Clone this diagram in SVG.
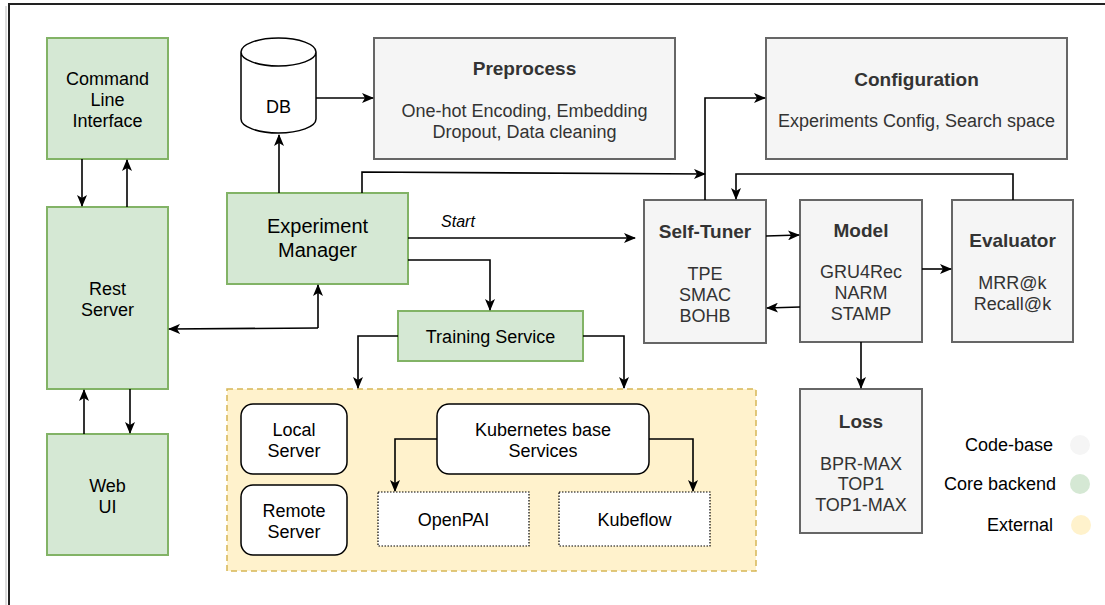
<svg xmlns="http://www.w3.org/2000/svg" width="1105" height="605" viewBox="0 0 1105 605">
<defs>
<marker id="ah" viewBox="0 0 12 10" refX="11" refY="5" markerWidth="12" markerHeight="10" markerUnits="userSpaceOnUse" orient="auto">
<path d="M0,0 L12,5 L0,10 L3,5 Z" fill="#000"/>
</marker>
</defs>
<style>
text{font-family:"Liberation Sans",Arial,sans-serif;text-anchor:middle;fill:#000}
.g{fill:#d5e8d4;stroke:#82b366;stroke-width:2}
.c{fill:#f5f5f5;stroke:#666666;stroke-width:2}
.c2{fill:#333333}
.w{fill:#fff;stroke:#000;stroke-width:1.5}
.d{fill:#fff;stroke:#000;stroke-width:1.2;stroke-dasharray:1.5 1.5}
.t18{font-size:18px}
.t20{font-size:20px}
.b{font-weight:bold;font-size:19px}
.ln{fill:none;stroke:#000;stroke-width:1.6}
</style>
<rect width="1105" height="605" fill="#fff"/>
<path d="M1105,4 H9 V605" fill="none" stroke="#222" stroke-width="2"/>
<path d="M6,6 V605" fill="none" stroke="#ddd" stroke-width="2"/>

<g id="cli">
<rect class="g" x="47" y="38" width="121" height="121"/>
<text class="t18" x="107.5" y="85">Command</text>
<text class="t18" x="107.5" y="106">Line</text>
<text class="t18" x="107.5" y="127">Interface</text>
</g>
<g id="rest">
<rect class="g" x="47" y="207" width="121" height="182"/>
<text class="t18" x="107.5" y="295">Rest</text>
<text class="t18" x="107.5" y="316">Server</text>
</g>
<g id="webui">
<rect class="g" x="47" y="434" width="121" height="121"/>
<text class="t18" x="107.5" y="492">Web</text>
<text class="t18" x="107.5" y="513">UI</text>
</g>
<g id="db">
<path class="w" d="M241,52 V119 A37.5,14 0 0 0 316,119 V52 A37.5,14 0 0 0 241,52 A37.5,14 0 0 0 316,52"/>
<text class="t18" x="278.5" y="113">DB</text>
</g>
<g id="preprocess">
<rect class="c" x="374" y="38" width="301" height="121"/>
<text class="b c2" x="524.5" y="75">Preprocess</text>
<text class="t18 c2" x="524.5" y="117">One-hot Encoding, Embedding</text>
<text class="t18 c2" x="524.5" y="138">Dropout, Data cleaning</text>
</g>
<g id="configuration">
<rect class="c" x="766" y="38" width="301" height="121"/>
<text class="b c2" x="916.5" y="86">Configuration</text>
<text class="t18 c2" x="916.5" y="127">Experiments Config, Search space</text>
</g>
<g id="experiment-manager">
<rect class="g" x="227" y="193" width="181" height="91"/>
<text class="t20" x="317.5" y="233">Experiment</text>
<text class="t20" x="317.5" y="257">Manager</text>
</g>
<g id="self-tuner">
<rect class="c" x="644" y="200" width="122" height="143"/>
<text class="b c2" x="705" y="238">Self-Tuner</text>
<text class="t18 c2" x="705" y="280">TPE</text>
<text class="t18 c2" x="705" y="301">SMAC</text>
<text class="t18 c2" x="705" y="322">BOHB</text>
</g>
<g id="model">
<rect class="c" x="800" y="200" width="122" height="142"/>
<text class="b c2" x="861" y="237">Model</text>
<text class="t18 c2" x="861" y="278">GRU4Rec</text>
<text class="t18 c2" x="861" y="299">NARM</text>
<text class="t18 c2" x="861" y="320">STAMP</text>
</g>
<g id="evaluator">
<rect class="c" x="952" y="200" width="121" height="142"/>
<text class="b c2" x="1012.5" y="247">Evaluator</text>
<text class="t18 c2" x="1012.5" y="289">MRR@k</text>
<text class="t18 c2" x="1012.5" y="310">Recall@k</text>
</g>
<g id="loss">
<rect class="c" x="800" y="389" width="122" height="144"/>
<text class="b c2" x="861" y="428">Loss</text>
<text class="t18 c2" x="861" y="470">BPR-MAX</text>
<text class="t18 c2" x="861" y="490">TOP1</text>
<text class="t18 c2" x="861" y="511">TOP1-MAX</text>
</g>
<g id="training-service">
<rect class="g" x="398" y="311" width="185" height="50"/>
<text class="t18" x="490.5" y="343">Training Service</text>
</g>
<g id="external">
<rect x="227" y="389" width="529" height="182" fill="#fff2cc" stroke="#d6b656" stroke-width="1.5" stroke-dasharray="6 4"/>
</g>
<g id="local-server">
<rect class="w" x="241" y="404" width="106" height="70" rx="12"/>
<text class="t18" x="294" y="436">Local</text>
<text class="t18" x="294" y="457">Server</text>
</g>
<g id="remote-server">
<rect class="w" x="241" y="485" width="106" height="70" rx="12"/>
<text class="t18" x="294" y="517">Remote</text>
<text class="t18" x="294" y="538">Server</text>
</g>
<g id="kubernetes">
<rect class="w" x="437" y="404" width="212" height="70" rx="12"/>
<text class="t18" x="543" y="436">Kubernetes base</text>
<text class="t18" x="543" y="457">Services</text>
</g>
<g id="openpai">
<rect class="d" x="378" y="492" width="151" height="54"/>
<text class="t18" x="453.5" y="526">OpenPAI</text>
</g>
<g id="kubeflow">
<rect class="d" x="559" y="492" width="151" height="54"/>
<text class="t18" x="634.5" y="526">Kubeflow</text>
</g>
<g id="legend">
<text class="t18" x="1053" y="451" style="text-anchor:end">Code-base</text>
<circle cx="1080" cy="445" r="10" fill="#f5f5f5"/>
<text class="t18" x="1056" y="490" style="text-anchor:end">Core backend</text>
<circle cx="1080" cy="484" r="10" fill="#d5e8d4"/>
<text class="t18" x="1053" y="531" style="text-anchor:end">External</text>
<circle cx="1081" cy="525" r="10" fill="#fff2cc"/>
</g>

<g id="connectors">
<path class="ln" d="M82,159 V206" marker-end="url(#ah)"/>
<path class="ln" d="M127,207 V160" marker-end="url(#ah)"/>
<path class="ln" d="M84,434 V390" marker-end="url(#ah)"/>
<path class="ln" d="M130,389 V433" marker-end="url(#ah)"/>
<path class="ln" d="M279,193 V135" marker-end="url(#ah)"/>
<path class="ln" d="M316,98 H373" marker-end="url(#ah)"/>
<path class="ln" d="M362,193 V172 L705,174" marker-end="url(#ah)"/>
<path class="ln" d="M705,200 V98 H765" marker-end="url(#ah)"/>
<path class="ln" d="M408,238 H635" marker-end="url(#ah)"/>
<path class="ln" d="M408,260 H490 V310" marker-end="url(#ah)"/>
<path class="ln" d="M318,328 V285" marker-end="url(#ah)"/>
<path class="ln" d="M318,328 L169,329" marker-end="url(#ah)"/>
<path class="ln" d="M398,336 H358 V388" marker-end="url(#ah)"/>
<path class="ln" d="M583,336 H624 V388" marker-end="url(#ah)"/>
<path class="ln" d="M437,439 H395 V491" marker-end="url(#ah)"/>
<path class="ln" d="M649,439 H693 V491" marker-end="url(#ah)"/>
<path class="ln" d="M766,236 L799,235" marker-end="url(#ah)"/>
<path class="ln" d="M800,307 L767,308" marker-end="url(#ah)"/>
<path class="ln" d="M922,269 H951" marker-end="url(#ah)"/>
<path class="ln" d="M1013,200 V174 H736 V199" marker-end="url(#ah)"/>
<path class="ln" d="M861,342 V388" marker-end="url(#ah)"/>
<text x="458" y="227" font-size="16" font-style="italic">Start</text>
</g>
</svg>
